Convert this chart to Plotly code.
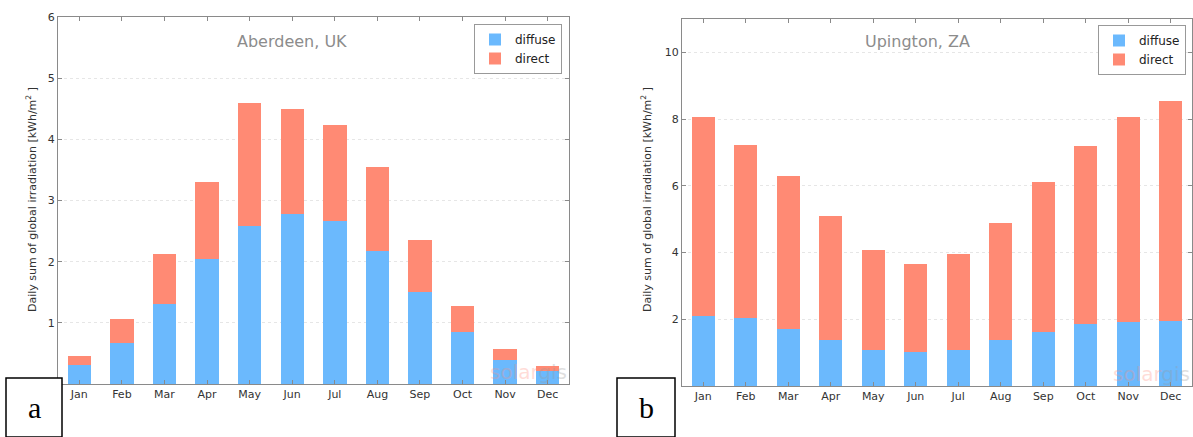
import plotly.graph_objects as go

months = ["Jan", "Feb", "Mar", "Apr", "May", "Jun", "Jul", "Aug", "Sep", "Oct", "Nov", "Dec"]

# Aberdeen, UK (kWh/m2 per day)
aberdeen_diffuse = [0.31, 0.67, 1.30, 2.04, 2.58, 2.78, 2.67, 2.17, 1.51, 0.85, 0.39, 0.22]
aberdeen_total = [0.45, 1.06, 2.12, 3.31, 4.60, 4.49, 4.23, 3.55, 2.35, 1.28, 0.57, 0.29]
aberdeen_direct = [round(t - d, 2) for t, d in zip(aberdeen_total, aberdeen_diffuse)]

# Upington, ZA
upington_diffuse = [2.10, 2.05, 1.71, 1.38, 1.09, 1.02, 1.09, 1.38, 1.62, 1.86, 1.92, 1.96]
upington_total = [8.06, 7.21, 6.28, 5.09, 4.09, 3.66, 3.95, 4.90, 6.12, 7.18, 8.06, 8.54]
upington_direct = [round(t - d, 2) for t, d in zip(upington_total, upington_diffuse)]

aberdeen_yticks = [1, 2, 3, 4, 5, 6]
upington_yticks = [2, 4, 6, 8, 10]

W, H = 1193, 437
C_DIFF = "#6BB9FD"
C_DIR = "#FF8A74"

def px_x(p):
    return p / W

def px_y(p):
    return 1 - p / H

fig = go.Figure()

fig.add_trace(go.Bar(x=months, y=aberdeen_diffuse, name="diffuse", marker=dict(color=C_DIFF, line=dict(width=0)),
                     width=0.55, xaxis="x", yaxis="y", legend="legend"))
fig.add_trace(go.Bar(x=months, y=aberdeen_direct, name="direct", marker=dict(color=C_DIR, line=dict(width=0)),
                     width=0.55, xaxis="x", yaxis="y", legend="legend"))
fig.add_trace(go.Bar(x=months, y=upington_diffuse, name="diffuse", marker=dict(color=C_DIFF, line=dict(width=0)),
                     width=0.55, xaxis="x2", yaxis="y2", legend="legend2"))
fig.add_trace(go.Bar(x=months, y=upington_direct, name="direct", marker=dict(color=C_DIR, line=dict(width=0)),
                     width=0.55, xaxis="x2", yaxis="y2", legend="legend2"))

axis_common = dict(showline=True, linecolor="#8a8a8a", linewidth=1.3, mirror="ticks",
                   ticks="inside", ticklen=4, tickcolor="#8a8a8a",
                   tickfont=dict(family="DejaVu Sans", size=11, color="#333"), zeroline=False)

legend_common = dict(xanchor="right", yanchor="top", bordercolor="#999", borderwidth=1, bgcolor="white",
                     font=dict(family="DejaVu Sans", size=12, color="#222"), tracegroupgap=0,
                     traceorder="normal", itemwidth=30)

fig.update_layout(
    width=W, height=H, margin=dict(l=0, r=0, t=0, b=0, autoexpand=False),
    paper_bgcolor="white", plot_bgcolor="white",
    barmode="stack", showlegend=True,
    xaxis=dict(domain=[px_x(58), px_x(569)], anchor="y", range=[-0.5, 11.5],
               showgrid=False, **axis_common),
    yaxis=dict(domain=[px_y(384), px_y(17)], anchor="x", range=[0, 6], tickvals=aberdeen_yticks,
               showgrid=True, gridcolor="#e6e6e6", griddash="dot", gridwidth=1, **axis_common),
    xaxis2=dict(domain=[px_x(682), px_x(1192)], anchor="y2", range=[-0.5, 11.5],
                showgrid=False, **axis_common),
    yaxis2=dict(domain=[px_y(386), px_y(19)], anchor="x2", range=[0, 11], tickvals=upington_yticks,
                showgrid=True, gridcolor="#e6e6e6", griddash="dot", gridwidth=1, **axis_common),
    legend=dict(x=px_x(562), y=px_y(24), **legend_common),
    legend2=dict(x=px_x(1186), y=px_y(25), **legend_common),
)

def ann(text, x, y, size, color, family="DejaVu Sans", angle=0, xanchor="center", opacity=1.0):
    return dict(text=text, x=px_x(x), y=px_y(y), xref="paper", yref="paper", showarrow=False,
                xanchor=xanchor, yanchor="middle", textangle=angle, opacity=opacity,
                font=dict(family=family, size=size, color=color))

ylabel = "Daily sum of global irradiation [kWh/m<sup>2</sup> ]"
annotations = [
    ann("Aberdeen, UK", 292, 41, 16, "#8c8c8c"),
    ann("Upington, ZA", 917, 41, 16, "#8c8c8c"),
    ann(ylabel, 31, 200, 11, "#333", angle=-90),
    ann(ylabel, 646, 200, 11, "#333", angle=-90),
    ann("<span style='color:#ff8f80'>solar</span>gis", 569, 372, 20, "#999999", xanchor="right", opacity=0.3),
    ann("<span style='color:#ff8f80'>solar</span>gis", 1192, 374, 20, "#999999", xanchor="right", opacity=0.3),
    ann("a", 34, 407, 30, "black", family="Liberation Serif"),
    ann("b", 646, 407, 30, "black", family="Liberation Serif"),
]
fig.update_layout(annotations=annotations)

fig.update_layout(shapes=[
    dict(type="rect", xref="paper", yref="paper", x0=px_x(6), x1=px_x(62), y0=px_y(437), y1=px_y(378),
         line=dict(color="black", width=1.5), fillcolor="white", layer="above"),
    dict(type="rect", xref="paper", yref="paper", x0=px_x(617), x1=px_x(675), y0=px_y(437), y1=px_y(378),
         line=dict(color="black", width=1.5), fillcolor="white", layer="above"),
])

fig.write_html("out.html")
